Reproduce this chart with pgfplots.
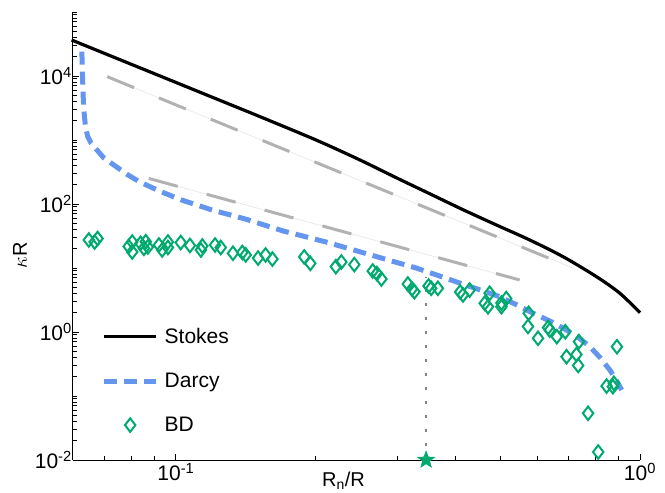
\documentclass[border=0pt]{standalone}
\usepackage{fontspec}
\setmainfont{Liberation Sans}
\usepackage{pgfplots}
\pgfplotsset{compat=1.18}
\definecolor{bdgreen}{RGB}{0,170,110}
\definecolor{darcyblue}{RGB}{100,150,240}
\definecolor{refgray}{RGB}{178,178,178}
\definecolor{dotgray}{RGB}{130,130,130}
\pgfplotsset{
  lineleg/.style={legend image code/.code={\draw[##1] (0pt,0pt) -- (52pt,0pt);}},
  markleg/.style={legend image code/.code={\draw[mark repeat=2,mark phase=2,##1] plot coordinates {(0pt,0pt) (26pt,0pt) (52pt,0pt)};}},
}
\pgfdeclareplotmark{mydiamond}{%
  \pgfpathmoveto{\pgfqpoint{0pt}{1.3\pgfplotmarksize}}%
  \pgfpathlineto{\pgfqpoint{\pgfplotmarksize}{0pt}}%
  \pgfpathlineto{\pgfqpoint{0pt}{-1.3\pgfplotmarksize}}%
  \pgfpathlineto{\pgfqpoint{-\pgfplotmarksize}{0pt}}%
  \pgfpathclose
  \pgfusepathqstroke}
\pgfdeclareplotmark{fstar}{%
  \pgfpathmoveto{\pgfpointpolar{90}{\pgfplotmarksize}}%
  \pgfpathlineto{\pgfpointpolar{126}{0.42\pgfplotmarksize}}%
  \pgfpathlineto{\pgfpointpolar{162}{\pgfplotmarksize}}%
  \pgfpathlineto{\pgfpointpolar{198}{0.42\pgfplotmarksize}}%
  \pgfpathlineto{\pgfpointpolar{234}{\pgfplotmarksize}}%
  \pgfpathlineto{\pgfpointpolar{270}{0.42\pgfplotmarksize}}%
  \pgfpathlineto{\pgfpointpolar{306}{\pgfplotmarksize}}%
  \pgfpathlineto{\pgfpointpolar{342}{0.42\pgfplotmarksize}}%
  \pgfpathlineto{\pgfpointpolar{18}{\pgfplotmarksize}}%
  \pgfpathlineto{\pgfpointpolar{54}{0.42\pgfplotmarksize}}%
  \pgfpathclose
  \pgfusepathqfillstroke}
\begin{document}
\begin{tikzpicture}
\path[use as bounding box] (-73pt,-33pt) rectangle (592pt,460pt);
\begin{axis}[
  scale only axis, width=567pt, height=448pt,
  xmode=log, ymode=log,
  xmin=0.06, xmax=1, ymin=1e-2, ymax=1e5,
  axis x line=bottom, axis y line=left,
  axis line style={-, line width=1pt},
  clip=false,
  tick align=inside,
  major tick length=6pt, minor tick length=4pt,
  every tick/.style={black, line width=0.9pt},
  xtick={0.1,1}, xticklabels={10\textsuperscript{-1},10\textsuperscript{0}},
  minor xtick={0.07,0.08,0.09,0.2,0.3,0.4,0.5,0.6,0.7,0.8,0.9},
  ytick={1e-2,1,1e2,1e4},
  yticklabels={10\textsuperscript{-2},10\textsuperscript{0},10\textsuperscript{2},10\textsuperscript{4}},
  minor ytick={0.02,0.03,0.04,0.05,0.06,0.07,0.08,0.09,0.1,
    0.2,0.3,0.4,0.5,0.6,0.7,0.8,0.9,
    2,3,4,5,6,7,8,9,10,20,30,40,50,60,70,80,90,
    200,300,400,500,600,700,800,900,1000,2000,3000,4000,5000,6000,7000,8000,9000,
    20000,30000,40000,50000,60000,70000,80000,90000,100000},
  ticklabel style={font=\fontsize{21}{25}\selectfont},
  yticklabel style={inner xsep=1pt},
  xticklabel style={inner ysep=3pt},
  xlabel={R\textsubscript{n}/R},
  ylabel={$\kappa$R},
  xlabel style={at={(axis description cs:0.477,0)}, anchor=center, yshift=-21pt, font=\fontsize{20}{24}\selectfont},
  ylabel style={at={(axis description cs:-0.0935,0.457)}, anchor=center, font=\fontsize{20}{24}\selectfont},
  legend style={at={(axis description cs:0.045,0.303)}, anchor=north west, draw=none, fill=none,
    font=\fontsize{21}{25}\selectfont, row sep=24pt, column sep=4pt},
  legend cell align=left,
]
% Stokes
\addplot[black, line width=3.2pt, smooth, lineleg]
  coordinates {(0.0596,36500) (0.075,18520) (0.094,9517) (0.118,4864) (0.15,2397) (0.19,1179)
  (0.2141,809) (0.2526,465) (0.2982,258) (0.352,145) (0.4155,81.5) (0.4904,47) (0.5786,27.4)
  (0.683,15) (0.806,7.31) (0.905,4.03) (1.0,2.0)};
\addlegendentry{Stokes}
% Darcy
\addplot[darcyblue, line width=5pt, dash pattern=on 13pt off 7pt, lineleg]
  coordinates {(0.0627,24000) (0.0629,10000) (0.0631,5000) (0.0633,3000) (0.0638,1700)
  (0.0645,1150) (0.0656,900) (0.0671,741) (0.070,520) (0.0741,390) (0.0785,290) (0.0832,225)
  (0.092,160) (0.103,115) (0.12,80) (0.1414,58) (0.17,38) (0.2105,25.5) (0.2423,19)
  (0.285,13.5) (0.3294,10) (0.37,7.5) (0.4086,5.83) (0.45,4.6) (0.498,3.57) (0.54,2.7) (0.587,1.98)
  (0.64,1.48) (0.695,1.07) (0.74,0.8) (0.78,0.59) (0.82,0.4) (0.861,0.255) (0.89,0.175) (0.913,0.124)};
\addlegendentry{Darcy}
% BD
\addplot[only marks, mark=mydiamond, mark size=5.2pt, bdgreen, line width=2pt, markleg]
  coordinates {
  (0.0649,27.4) (0.0668,25.5) (0.0678,28.9) (0.0791,21.7) (0.0805,17.8) (0.0805,25.5)
  (0.0839,24.3) (0.0861,25.8) (0.0870,21.3) (0.0853,20.3) (0.0919,22.9) (0.0934,19.1)
  (0.0961,25.5) (0.0961,20.9) (0.1024,25.0) (0.1072,22.5) (0.1140,22.1) (0.1132,19.1)
  (0.1214,22.9) (0.1249,20.9) (0.1327,17.0) (0.1390,17.5) (0.1414,16.0) (0.1503,14.3)
  (0.1560,16.0) (0.1614,13.8) (0.1890,14.9) (0.1948,11.8) (0.2211,10.5) (0.2272,12.4)
  (0.2423,11.3) (0.2655,8.98) (0.2710,8.2) (0.2772,6.73) (0.3160,5.62) (0.3226,4.70)
  (0.3266,4.26) (0.3502,5.23) (0.3549,4.82) (0.3668,4.82) (0.4097,4.22) (0.4295,4.53)
  (0.4155,3.79) (0.4627,2.81) (0.4704,2.48) (0.4743,4.03) (0.5028,2.48) (0.5028,2.84)
  (0.5150,3.33) (0.5757,1.96) (0.5737,1.22) (0.6030,0.798) (0.6339,1.175) (0.6392,1.07)
  (0.6618,0.845) (0.6904,1.01) (0.7386,0.705) (0.6946,0.411) (0.7295,0.445) (0.7359,0.30)
  (0.8919,0.589) (0.8473,0.143) (0.8743,0.1396) (0.8786,0.158) (0.7731,0.0537) (0.8128,0.01334)};
\addlegendentry{BD}
% reference slopes
\addplot[forget plot, black!10, line width=0.6pt] coordinates {(0.0711,9770) (0.7166,10)};
\addplot[forget plot, refgray, line width=3pt, dash pattern=on 29pt off 27pt] coordinates {(0.0711,9770) (0.7166,10)};
\addplot[forget plot, black!10, line width=0.6pt] coordinates {(0.0874,251) (0.5505,6.5)};
\addplot[forget plot, refgray, line width=3pt, dash pattern=on 30pt off 30pt] coordinates {(0.0874,251) (0.5505,6.5)};
% dotted marker line and star
\addplot[forget plot, dotgray, line width=2.6pt, dash pattern=on 2.6pt off 11.4pt] coordinates {(0.346,0.01) (0.346,7.3)};
\addplot[forget plot, only marks, mark=fstar, mark size=9pt, bdgreen, line width=0.5pt] coordinates {(0.346,0.01)};
\end{axis}
\end{tikzpicture}
\end{document}
